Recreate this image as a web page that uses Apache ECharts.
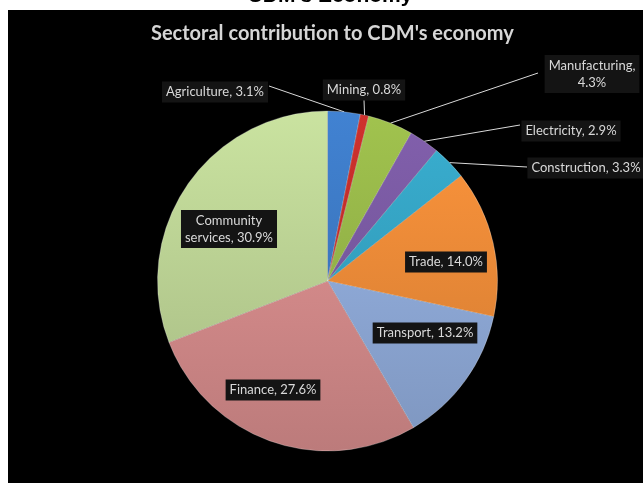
<!DOCTYPE html>
<html>
<head>
<meta charset="utf-8">
<title>Sectoral contribution to CDM's economy</title>
<script src="https://cdn.jsdelivr.net/npm/echarts@6/dist/echarts.min.js"></script>
<style>
  html, body { margin: 0; padding: 0; background: #ffffff; }
  #chart { width: 643px; height: 483px; }
</style>
</head>
<body>
<div id="chart"></div>
<script>
// Sector shares of the economy (percent)
const sectors = ['Agriculture', 'Mining', 'Manufacturing', 'Electricity', 'Construction',
                 'Trade', 'Transport', 'Finance', 'Community services'];
const shares = [3.1, 0.8, 4.3, 2.9, 3.3, 14.0, 13.2, 27.6, 30.9];
const labelTexts = ['Agriculture, 3.1%', 'Mining, 0.8%', 'Manufacturing,\n4.3%', 'Electricity, 2.9%',
                    'Construction, 3.3%', 'Trade, 14.0%', 'Transport, 13.2%', 'Finance, 27.6%',
                    'Community\nservices, 30.9%'];

// Slice fills: lighter at the top of the pie, darker toward the bottom
const sliceColors = ['#3f7ecc', '#c9302c', '#9cbd4c', '#7e5da8', '#37aacb',
                     '#f7913a', '#96b3e3', '#e09292', '#c4dc9b'];

// Layout of the data labels: label centre and, for outside labels, where the leader line ends
const labelPlacement = [
  { cx: 215, cy: 92, end: [269, 86] },
  { cx: 364, cy: 90, end: [364, 100] },
  { cx: 592, cy: 74, end: [538, 73] },
  { cx: 571, cy: 131, end: [520, 125] },
  { cx: 586, cy: 168, end: [527, 167] },
  { cx: 446, cy: 262 },
  { cx: 425, cy: 333 },
  { cx: 273, cy: 390 },
  { cx: 229, cy: 229 }
];

const pieCenter = [327.5, 281];
const pieRadius = 170;

function shade(hex, f) {
  const n = parseInt(hex.slice(1), 16);
  const r = Math.min(255, Math.round(((n >> 16) & 255) * f));
  const g = Math.min(255, Math.round(((n >> 8) & 255) * f));
  const b = Math.min(255, Math.round((n & 255) * f));
  return 'rgb(' + r + ',' + g + ',' + b + ')';
}

const chart = echarts.init(document.getElementById('chart'), null, { renderer: 'canvas' });

const pieData = sectors.map(function (name, i) {
  const hasLine = !!labelPlacement[i].end;
  return {
    name: name,
    value: shares[i],
    itemStyle: {
      color: new echarts.graphic.LinearGradient(0, pieCenter[1] - pieRadius, 0, pieCenter[1] + pieRadius, [
        { offset: 0, color: shade(sliceColors[i], 1.03) },
        { offset: 1, color: shade(sliceColors[i], 0.84) }
      ], true)
    },
    label: { formatter: labelTexts[i] },
    labelLine: { show: hasLine }
  };
});

chart.setOption({
  backgroundColor: '#ffffff',
  animation: false,
  graphic: [
    { type: 'rect', z: 0, silent: true, shape: { x: 8, y: 10, width: 635, height: 473 }, style: { fill: '#000000' } },
    { type: 'text', z: 1, silent: true, x: 330, y: 7,
      style: { text: "CDM's Economy", fill: '#000000', font: 'bold 21px "Liberation Sans", Arial, sans-serif',
               align: 'center', verticalAlign: 'bottom' } }
  ],
  title: {
    text: "Sectoral contribution to CDM's economy",
    left: 146,
    top: 19,
    textStyle: { color: '#d6d6d6', fontFamily: 'Lato', fontWeight: 'bold', fontSize: 20 }
  },
  series: [{
    type: 'pie',
    center: pieCenter,
    radius: pieRadius,
    startAngle: 90,
    clockwise: true,
    avoidLabelOverlap: false,
    data: pieData,
    itemStyle: { borderColor: 'rgba(255,255,255,0.25)', borderWidth: 1 },
    label: {
      show: true,
      position: 'outside',
      color: '#d9d9d9',
      fontFamily: 'Lato',
      fontSize: 13,
      lineHeight: 17,
      backgroundColor: '#141414',
      padding: [2, 4, 2, 4],
      align: 'center'
    },
    labelLine: {
      show: true,
      length: 10,
      length2: 10,
      lineStyle: { color: '#d9d9d9', width: 1 }
    },
    labelLayout: function (p) {
      const place = labelPlacement[p.dataIndex];
      const res = { x: place.cx, y: place.cy, align: 'center', verticalAlign: 'middle' };
      if (place.end && p.labelLinePoints) {
        const start = p.labelLinePoints[0];
        res.labelLinePoints = [start, place.end, place.end];
      }
      return res;
    }
  }]
});
</script>
</body>
</html>
